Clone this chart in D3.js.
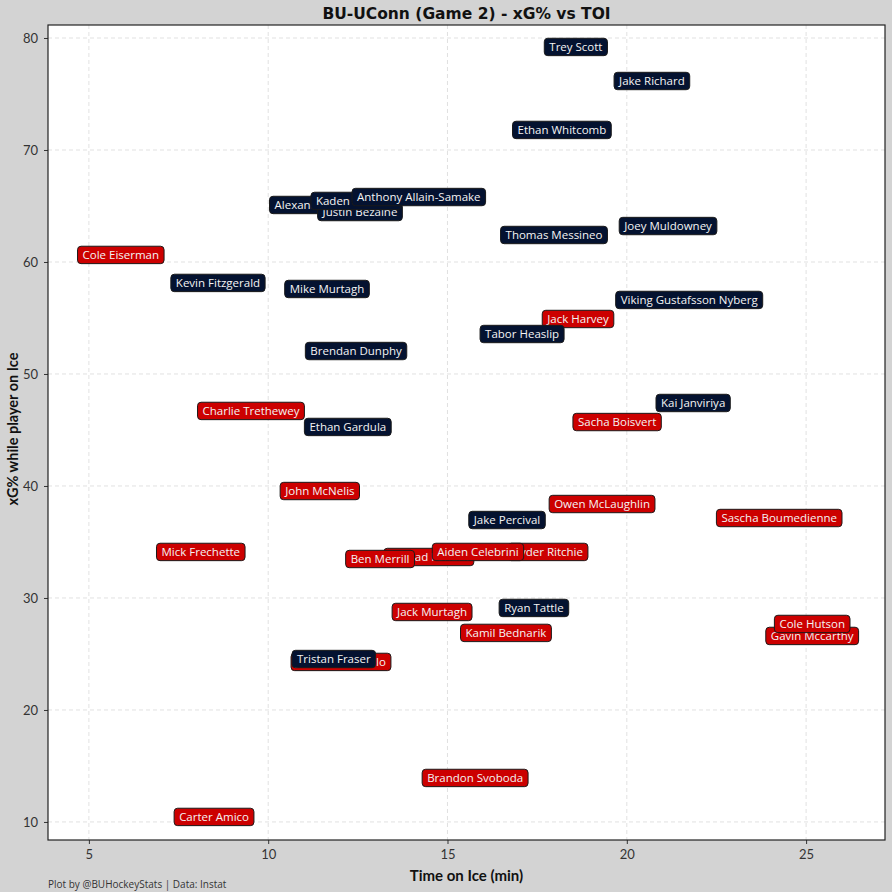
<!DOCTYPE html>
<html><head><meta charset="utf-8">
<script src="https://cdn.jsdelivr.net/npm/d3@7/dist/d3.min.js"></script>
<style>
html,body{margin:0;padding:0;background:#d3d3d3;}
svg{display:block;font-family:"Open Sans", Lato, sans-serif;}
</style></head>
<body>
<svg id="chart" width="892" height="892"></svg>
<script>
// Data (drawn in this order; later labels sit on top)
const players = ["Trey Scott","Jake Richard","Ethan Whitcomb","Alexander Dorsey","Justin Bezaine","Kaden Bohlsen","Anthony Allain-Samake","Thomas Messineo","Joey Muldowney","Cole Eiserman","Kevin Fitzgerald","Mike Murtagh","Viking Gustafsson Nyberg","Jack Harvey","Tabor Heaslip","Brendan Dunphy","Kai Janviriya","Charlie Trethewey","Sacha Boisvert","Ethan Gardula","John McNelis","Owen McLaughlin","Sascha Boumedienne","Jake Percival","Mick Frechette","Conrad Fondrk","Ryder Ritchie","Aiden Celebrini","Ben Merrill","Jack Murtagh","Ryan Tattle","Kamil Bednarik","Gavin Mccarthy","Cole Hutson","Jonathan Castillo","Tristan Fraser","Brandon Svoboda","Carter Amico"];
const teams = ["UConn","UConn","UConn","UConn","UConn","UConn","UConn","UConn","UConn","BU","UConn","UConn","UConn","BU","UConn","UConn","UConn","BU","BU","UConn","BU","BU","BU","UConn","BU","BU","BU","BU","BU","BU","UConn","BU","BU","BU","BU","UConn","BU","BU"];
const toi = [18.58,20.70,18.19,11.50,12.56,12.45,14.20,17.97,21.15,5.89,8.60,11.64,21.74,18.64,17.08,12.45,21.85,9.52,19.73,12.22,11.44,19.31,24.25,16.66,8.12,14.48,17.80,15.85,13.12,14.57,17.41,16.63,25.17,25.17,12.03,11.83,15.77,8.49];
const xg = [79.2,76.16,71.79,65.09,64.46,65.45,65.8,62.41,63.21,60.63,58.13,57.59,56.61,54.91,53.57,52.05,47.41,46.70,45.71,45.27,39.55,38.39,37.14,36.96,34.11,33.66,34.11,34.11,33.48,28.75,29.11,26.88,26.61,27.68,24.29,24.55,13.93,10.45];
const xTicks = [5,10,15,20,25];
const yTicks = [10,20,30,40,50,60,70,80];
const teamColors = {BU:"#cc0000", UConn:"#041230"};
const titleText = "BU-UConn (Game 2) - xG% vs TOI";
const xLabel = "Time on Ice (min)";
const yLabel = "xG% while player on Ice";
const caption = "Plot by @BUHockeyStats | Data: Instat";

const W = 892, H = 892;
const m = {l:48, r:7, t:25, b:52};
const svg = d3.select("#chart");
const x = d3.scaleLinear().domain([3.86, 27.2]).range([m.l, W - m.r]);
const y = d3.scaleLinear().domain([8.39, 81.16]).range([H - m.b, m.t]);

svg.append("rect").attr("width", W).attr("height", H).attr("fill", "#d3d3d3");
svg.append("rect").attr("x", m.l).attr("y", m.t).attr("width", W - m.l - m.r).attr("height", H - m.t - m.b).attr("fill", "#fff");

// grid
const g = svg.append("g");
g.selectAll(".vg").data(xTicks).join("line")
  .attr("x1", d => x(d)).attr("x2", d => x(d)).attr("y1", m.t).attr("y2", H - m.b)
  .attr("stroke", "#d9d9d9").attr("stroke-dasharray", "4,3").attr("stroke-width", 0.8);
g.selectAll(".hg").data(yTicks).join("line")
  .attr("y1", d => y(d)).attr("y2", d => y(d)).attr("x1", m.l).attr("x2", W - m.r)
  .attr("stroke", "#d9d9d9").attr("stroke-dasharray", "4,3").attr("stroke-width", 0.8);

// axes
const xAxis = svg.append("g").attr("transform", `translate(0,${H - m.b})`)
  .call(d3.axisBottom(x).tickValues(xTicks).tickSize(4).tickPadding(6));
const yAxis = svg.append("g").attr("transform", `translate(${m.l},0)`)
  .call(d3.axisLeft(y).tickValues(yTicks).tickSize(4).tickPadding(6));
[xAxis, yAxis].forEach(a => {
  a.select(".domain").remove();
  a.selectAll("text").attr("font-size", 13).attr("fill", "#333").attr("font-family", "Lato, sans-serif");
  a.selectAll("line").attr("stroke", "#333");
});

// frame
svg.append("rect").attr("x", m.l).attr("y", m.t).attr("width", W - m.l - m.r).attr("height", H - m.t - m.b)
  .attr("fill", "none").attr("stroke", "#222").attr("stroke-width", 1.2);

// labels
const lab = svg.append("g");
players.forEach((p, i) => {
  const gg = lab.append("g").attr("transform", `translate(${x(toi[i])},${y(xg[i])})`);
  const r = gg.append("rect");
  const t = gg.append("text").text(p).attr("text-anchor", "middle").attr("dy", "0.36em")
    .attr("font-size", 11.5).attr("fill", "#f4f4f4");
  const w = t.node().getComputedTextLength();
  r.attr("x", -w / 2 - 5).attr("y", -8.7).attr("width", w + 10).attr("height", 17.4)
    .attr("rx", 3.5).attr("fill", teamColors[teams[i]]).attr("stroke", "#1a1a1a").attr("stroke-width", 1);
});

// titles
svg.append("text").attr("x", (m.l + W - m.r) / 2).attr("y", 19).attr("text-anchor", "middle")
  .attr("font-family", "'DejaVu Sans', sans-serif")
  .attr("font-size", 15.5).attr("font-weight", "bold").attr("fill", "#111").text(titleText);
svg.append("text").attr("x", (m.l + W - m.r) / 2).attr("y", 881).attr("text-anchor", "middle")
  .attr("font-family", "Lato, sans-serif")
  .attr("font-size", 15).attr("font-weight", "bold").attr("fill", "#111").text(xLabel);
svg.append("text").attr("transform", `translate(18,429) rotate(-90)`).attr("text-anchor", "middle")
  .attr("font-family", "Lato, sans-serif")
  .attr("font-size", 14.5).attr("font-weight", "bold").attr("fill", "#111").text(yLabel);
svg.append("text").attr("x", m.l).attr("y", 888).attr("font-size", 10).attr("fill", "#333").text(caption);
</script>
</body></html>
